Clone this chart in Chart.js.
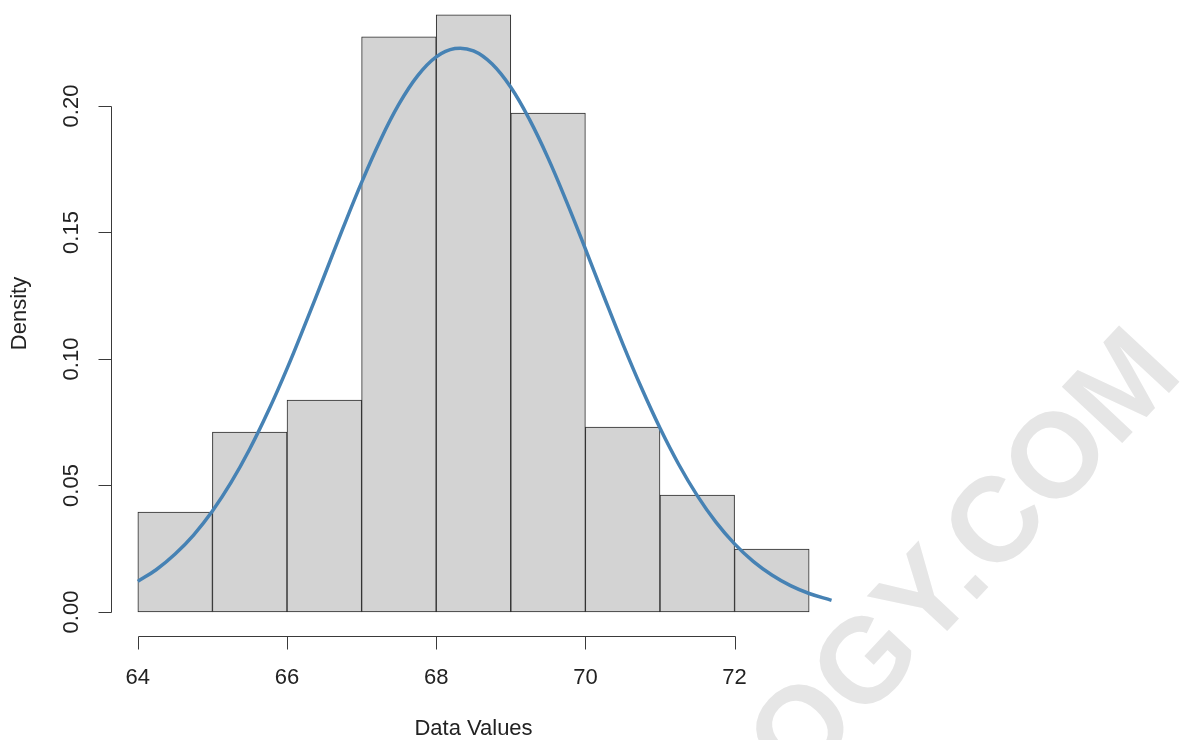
<!DOCTYPE html>
<html>
<head>
<meta charset="utf-8">
<title>Histogram with density curve</title>
<script src="https://cdn.jsdelivr.net/npm/chart.js@4/dist/chart.umd.min.js"></script>
<style>
    html, body { margin: 0; padding: 0; background: #ffffff; }
    #wrap { width: 1183px; height: 740px; }
</style>
</head>
<body>
<div id="wrap"><canvas id="myChart" width="1183" height="740"></canvas></div>
<script>
// Bin middles (breaks 64..73, width 1) and densities
const binMids = [64.5, 65.5, 66.5, 67.5, 68.5, 69.5, 70.5, 71.5, 72.5];
const binDensity = [0.0395, 0.0711, 0.0838, 0.2273, 0.2360, 0.1972, 0.0731, 0.0462, 0.0249];

// Points of the fitted curve
const curveX = [64, 64.25, 64.5, 64.75, 65, 65.25, 65.5, 65.75, 66, 66.25, 66.5, 66.75,
    67, 67.25, 67.5, 67.75, 68, 68.25, 68.5, 68.75, 69, 69.25, 69.5, 69.75,
    70, 70.25, 70.5, 70.75, 71, 71.25, 71.5, 71.75, 72, 72.25, 72.5, 72.75, 73, 73.3];
const curveY = [0.0121, 0.0168, 0.0229, 0.0305, 0.0399, 0.0512, 0.0644, 0.0795, 0.0962, 0.1143, 0.1329, 0.1517,
    0.1698, 0.1864, 0.2007, 0.2119, 0.2194, 0.2227, 0.2218, 0.2166, 0.2074, 0.1947, 0.1794, 0.1620,
    0.1435, 0.1246, 0.1061, 0.0887, 0.0727, 0.0584, 0.0460, 0.0355, 0.0269, 0.0200, 0.0146, 0.0104, 0.0073, 0.0046];

// Tick labels
const xTicks = [64, 66, 68, 70, 72];
const yTicks = [0, 0.05, 0.10, 0.15, 0.20];
const yTickLabels = ['0.00', '0.05', '0.10', '0.15', '0.20'];

const xTitle = 'Data Values';
const yTitle = 'Density';
const watermark = 'STATOLOGY.COM';

const FONT = '"Liberation Sans", Arial, Helvetica, sans-serif';

// R style axes: lines only from first to last tick, detached from the bars
const rAxes = {
    id: 'rAxes',
    beforeDraw(chart) {
        // watermark in the background
        const c = chart.ctx;
        c.save();
        c.translate(1185, 376);
        c.rotate(-47 * Math.PI / 180);
        c.font = 'bold 120px ' + FONT;
        c.fillStyle = '#e6e6e6';
        c.textAlign = 'right';
        c.textBaseline = 'alphabetic';
        c.fillText(watermark, 0, 0);
        c.restore();
    },
    afterDraw(chart) {
        const c = chart.ctx;
        const xs = chart.scales.x;
        const ys = chart.scales.y;
        const area = chart.chartArea;
        const tick = 13;
        c.save();
        c.strokeStyle = '#3a3a3a';
        c.lineWidth = 1;
        c.fillStyle = '#222222';
        c.font = '22px ' + FONT;

        // x axis
        const ax = Math.round(area.bottom) + 0.5;
        const x0 = Math.round(xs.getPixelForValue(xTicks[0])) + 0.5;
        const x1 = Math.round(xs.getPixelForValue(xTicks[xTicks.length - 1])) + 0.5;
        c.beginPath();
        c.moveTo(x0, ax);
        c.lineTo(x1, ax);
        xTicks.forEach(function (v) {
            const px = Math.round(xs.getPixelForValue(v)) + 0.5;
            c.moveTo(px, ax);
            c.lineTo(px, ax + tick);
        });
        c.stroke();
        c.textAlign = 'center';
        c.textBaseline = 'middle';
        xTicks.forEach(function (v) {
            c.fillText(String(v), xs.getPixelForValue(v), ax + 41);
        });

        // y axis
        const ay = Math.round(area.left) + 0.5;
        const y0 = Math.round(ys.getPixelForValue(yTicks[0])) + 0.5;
        const y1 = Math.round(ys.getPixelForValue(yTicks[yTicks.length - 1])) + 0.5;
        c.beginPath();
        c.moveTo(ay, y0);
        c.lineTo(ay, y1);
        yTicks.forEach(function (v) {
            const py = Math.round(ys.getPixelForValue(v)) + 0.5;
            c.moveTo(ay, py);
            c.lineTo(ay - tick, py);
        });
        c.stroke();
        yTicks.forEach(function (v, i) {
            c.save();
            c.translate(ay - 40, ys.getPixelForValue(v));
            c.rotate(-Math.PI / 2);
            c.fillText(yTickLabels[i], 0, 0);
            c.restore();
        });

        // axis titles
        c.fillText(xTitle, (area.left + area.right) / 2, 729);
        c.save();
        c.translate(20, (area.top - 9 + area.bottom) / 2);
        c.rotate(-Math.PI / 2);
        c.fillText(yTitle, 0, 0);
        c.restore();
        c.restore();
    }
};

const ctx = document.getElementById('myChart').getContext('2d');
const chart = new Chart(ctx, {
    type: 'bar',
    data: {
        datasets: [{
            // density curve on top
            type: 'line',
            label: 'Density curve',
            data: curveX.map(function (x, i) { return { x: x, y: curveY[i] }; }),
            borderColor: '#4682b4',
            borderWidth: 3.5,
            pointRadius: 0,
            tension: 0.4,
            fill: false,
            order: 0
        }, {
            type: 'bar',
            label: 'Histogram',
            data: binMids.map(function (x, i) { return { x: x, y: binDensity[i] }; }),
            backgroundColor: '#d3d3d3',
            borderColor: '#2a2a2a',
            borderWidth: 1,
            borderSkipped: false,
            barPercentage: 1,
            categoryPercentage: 1,
            order: 1
        }]
    },
    options: {
        responsive: false,
        animation: false,
        layout: { padding: { left: 111, right: 347, top: 0, bottom: 104 } },
        plugins: {
            legend: { display: false },
            tooltip: { enabled: false }
        },
        scales: {
            x: { type: 'linear', display: false, offset: false, min: 63.64, max: 73.36 },
            y: { type: 'linear', display: false, min: -0.0095, max: 0.2419 }
        }
    },
    plugins: [rAxes]
});
</script>
</body>
</html>
